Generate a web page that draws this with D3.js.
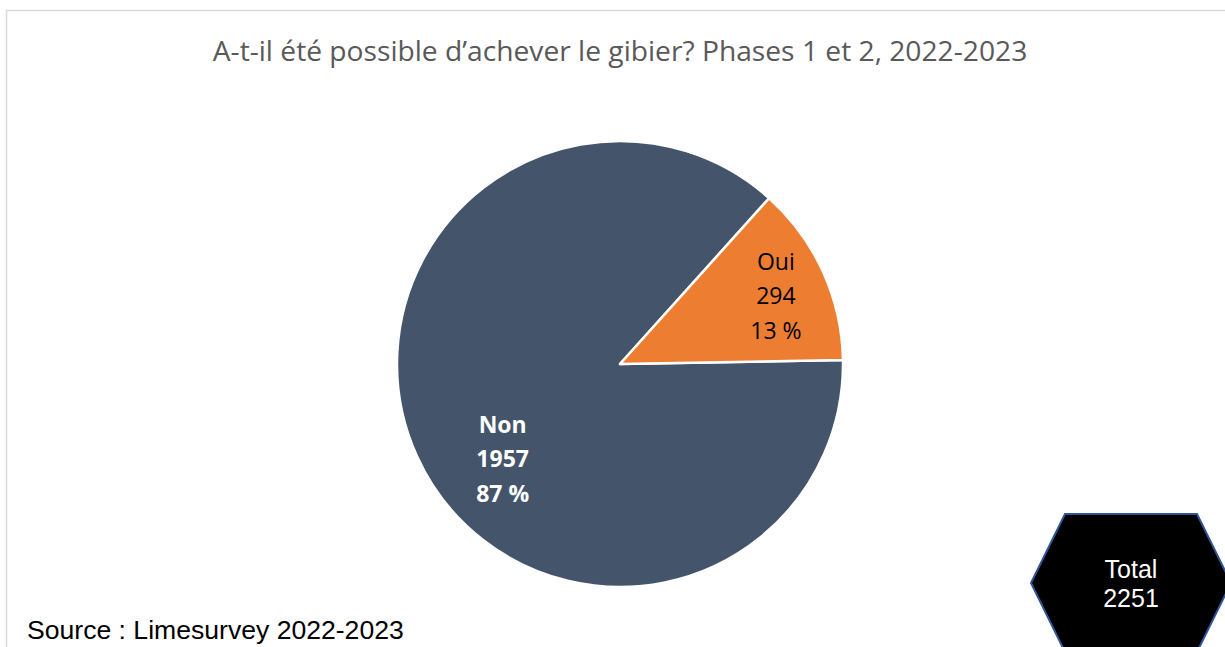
<!DOCTYPE html>
<html lang="fr">
<head>
<meta charset="utf-8">
<title>Achever le gibier</title>
<script src="https://cdn.jsdelivr.net/npm/d3@7"></script>
<style>
  body { margin: 0; background: #fff; }
  .title { fill: #595959; font-family: "Open Sans", sans-serif; }
  .lbl { font-family: "Open Sans", sans-serif; text-anchor: middle; }
  .arial { font-family: "Liberation Sans", Arial, sans-serif; }
</style>
</head>
<body>
<svg width="1225" height="647"></svg>
<script>
// data
var categories = ["Non", "Oui"];
var counts = [1957, 294];
var sliceColors = ["#44546A", "#ED7D31"];
var labelColors = ["#ffffff", "#000000"];
var labelWeights = ["bold", "normal"];
var titleText = "A-t-il été possible d\u2019achever le gibier? Phases 1 et 2, 2022-2023";
var sourceText = "Source : Limesurvey 2022-2023";

var total = d3.sum(counts);
var data = categories.map(function(c, i) { return { cat: c, n: counts[i], i: i }; });

var svg = d3.select("svg");
var cx = 620, cy = 364, r = 223;

// chart frame (light grey border, runs off right/bottom)
svg.append("rect")
  .attr("x", 6.5).attr("y", 10.5)
  .attr("width", 1400).attr("height", 800)
  .attr("fill", "none").attr("stroke", "#d9d9d9").attr("stroke-width", 1.5);

function fitWidth(sel, target) {
  var fs = +sel.attr("font-size");
  var w = sel.node().getComputedTextLength();
  sel.attr("font-size", fs * target / w);
}

var title = svg.append("text").attr("class", "title")
  .attr("x", 620).attr("y", 61)
  .attr("text-anchor", "middle")
  .attr("font-size", 24)
  .text(titleText);
fitWidth(title, 815);

var start = 89 * Math.PI / 180;
var pie = d3.pie().sort(null).value(function(d) { return d.n; })
  .startAngle(start).endAngle(start + 2 * Math.PI);
var arc = d3.arc().innerRadius(0).outerRadius(r);

var g = svg.append("g").attr("transform", "translate(" + cx + "," + cy + ")");
var arcs = pie(data);

g.selectAll("path.slice")
  .data(arcs)
  .enter().append("path")
  .attr("class", "slice")
  .attr("d", arc)
  .attr("fill", function(d) { return sliceColors[d.data.i]; })
  .attr("stroke", "#fff")
  .attr("stroke-width", 2.5)
  .attr("stroke-linejoin", "round");

// label placement (excel best fit): distance from centre and angle nudge
var labelDist = [151, 170];
var labelNudge = [-14.5, 1];

var lbl = g.selectAll("g.lbl")
  .data(arcs)
  .enter().append("g")
  .attr("class", "lbl")
  .attr("transform", function(d) {
    var i = d.data.i;
    var a = (d.startAngle + d.endAngle) / 2 + labelNudge[i] * Math.PI / 180;
    var x = labelDist[i] * Math.sin(a), y = -labelDist[i] * Math.cos(a);
    return "translate(" + x + "," + y + ")";
  });

lbl.each(function(d) {
  var i = d.data.i;
  var lines = [d.data.cat, d.data.n, Math.round(d.data.n / total * 100) + " %"];
  var t = d3.select(this).append("text")
    .attr("fill", labelColors[i])
    .attr("font-weight", labelWeights[i])
    .attr("font-size", 23);
  lines.forEach(function(s, k) {
    t.append("tspan").attr("x", 0).attr("y", (k - 1) * 34.5 + 8).text(s);
  });
});

// total badge (hexagon)
var hx = 1131, hy = 583;
var hex = [[-100, 0], [-66, -69], [66, -69], [100, 0], [66, 69], [-66, 69]];
svg.append("path")
  .attr("d", d3.line()(hex.map(function(p) { return [hx + p[0], hy + p[1]]; })) + "Z")
  .attr("fill", "#000")
  .attr("stroke", "#2F5597")
  .attr("stroke-width", 2);

var tt = svg.append("text").attr("class", "arial")
  .attr("fill", "#fff").attr("text-anchor", "middle").attr("font-size", 25);
tt.append("tspan").attr("x", hx).attr("y", 578).text("Total");
tt.append("tspan").attr("x", hx).attr("y", 607).text(total);

var src = svg.append("text").attr("class", "arial")
  .attr("x", 27).attr("y", 639)
  .attr("fill", "#000")
  .attr("font-size", 22)
  .text(sourceText);
fitWidth(src, 377);
</script>
</body>
</html>
